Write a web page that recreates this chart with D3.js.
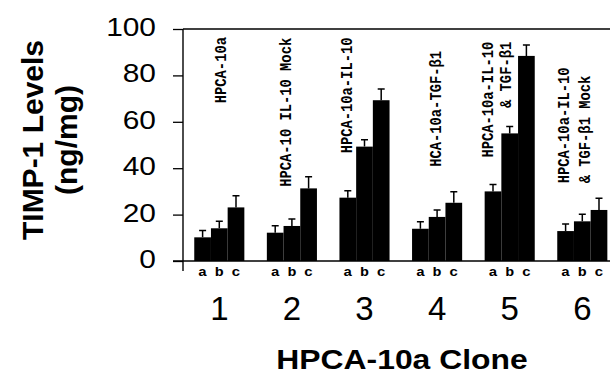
<!DOCTYPE html>
<html>
<head>
<meta charset="utf-8">
<script src="https://cdn.jsdelivr.net/npm/d3@7"></script>
<style>
  body { margin: 0; background: #fff; }
  svg { display: block; }
  .tick line { stroke: #000; stroke-width: 1.3; }
</style>
</head>
<body>
<div id="chart"></div>
<script>
// clone groups and the three samples in each
const groups = ["1", "2", "3", "4", "5", "6"];
const samples = ["a", "b", "c"];

// TIMP-1 levels (ng/mg)
const levelsA = [10.2, 12.2, 27.3, 13.9, 30.0, 12.9];
const levelsB = [14.1, 15.1, 49.3, 19.0, 55.0, 17.1];
const levelsC = [23.1, 31.3, 69.3, 25.1, 88.4, 22.0];
// error bar (upper) sizes
const errA = [3, 3, 3, 3, 3, 3];
const errB = [3, 3, 3, 3, 3, 3];
const errC = [5, 5, 4.8, 4.8, 4.7, 5];

const yTicks = [0, 20, 40, 60, 80, 100];

// annotation text for each clone
const cloneNames = [
    ["HPCA-10a"],
    ["HPCA-10 IL-10 Mock"],
    ["HPCA-10a-IL-10"],
    ["HCA-10a-TGF-β1"],
    ["HPCA-10a-IL-10", "& TGF-β1"],
    ["HPCA-10a-IL-10", "& TGF-β1 Mock"]
];

const levels = { a: levelsA, b: levelsB, c: levelsC };
const errs = { a: errA, b: errB, c: errC };
const data = groups.map((g, i) => ({
    group: g,
    bars: samples.map(s => ({ group: g, key: s, value: levels[s][i], err: errs[s][i] }))
}));

const width = 610, height = 379;

const svg = d3.select("#chart")
    .append("svg")
    .attr("width", width)
    .attr("height", height);

//scales
const y = d3.scaleLinear().domain([0, 100]).range([261, 29]);

const x0 = d3.scaleBand()
    .domain(groups)
    .range([183, 618.6])
    .paddingInner(0.31)
    .paddingOuter(0.155);

const x1 = d3.scaleBand()
    .domain(samples)
    .range([0, x0.bandwidth()])
    .padding(0);

//frame lines
svg.append("line")
    .attr("x1", 183).attr("x2", width)
    .attr("y1", y(100)).attr("y2", y(100))
    .attr("stroke", "#000").attr("stroke-width", 1.4);
svg.append("line")
    .attr("x1", 183).attr("x2", 183)
    .attr("y1", y(100)).attr("y2", y(0) + 10)
    .attr("stroke", "#000").attr("stroke-width", 1.4);
svg.append("line")
    .attr("x1", 173).attr("x2", width)
    .attr("y1", y(0)).attr("y2", y(0))
    .attr("stroke", "#000").attr("stroke-width", 1.4);

//y axis
const yAxis = svg.append("g")
    .attr("transform", "translate(183,0)")
    .call(d3.axisLeft(y).tickValues(yTicks).tickSize(10).tickPadding(13.5));
yAxis.select(".domain").remove();
yAxis.selectAll("text")
    .attr("font-family", "Liberation Sans, Arial, sans-serif")
    .attr("font-size", 26)
    .attr("fill", "#000")
    .attr("dy", "0.25em")
    .attr("transform", "scale(1.15,1)");

//x axis (clone numbers)
const xAxis = svg.append("g")
    .attr("transform", `translate(0,${y(0)})`)
    .call(d3.axisBottom(x0).tickSize(0).tickPadding(36));
xAxis.select(".domain").remove();
xAxis.selectAll("text")
    .attr("font-family", "Liberation Sans, Arial, sans-serif")
    .attr("font-size", 33)
    .attr("fill", "#000");

//bars
const groupG = svg.selectAll(".clone")
    .data(data)
    .join("g")
    .attr("class", "clone")
    .attr("transform", d => `translate(${x0(d.group)},0)`);

groupG.selectAll("rect")
    .data(d => d.bars)
    .join("rect")
    .attr("x", d => x1(d.key))
    .attr("y", d => y(d.value))
    .attr("width", x1.bandwidth())
    .attr("height", d => y(0) - y(d.value))
    .attr("fill", "#000");

//error bars
const cx = d => x1(d.key) + x1.bandwidth() / 2;
groupG.selectAll(".err")
    .data(d => d.bars)
    .join("path")
    .attr("class", "err")
    .attr("fill", "none")
    .attr("stroke", "#000")
    .attr("stroke-width", 1.5)
    .attr("d", d => `M${cx(d)},${y(d.value)}V${y(d.value + d.err)}M${cx(d) - 3.5},${y(d.value + d.err)}H${cx(d) + 3.5}`);

//a b c labels
groupG.selectAll(".sub")
    .data(d => d.bars)
    .join("text")
    .attr("class", "sub")
    .attr("transform", d => `translate(${cx(d)},276) scale(1.2,1)`)
    .attr("text-anchor", "middle")
    .attr("font-family", "Liberation Mono, Courier New, monospace")
    .attr("font-weight", "bold")
    .attr("font-size", 12.5)
    .text(d => d.key);

//clone name annotations (rotated)
const notePlace = [
    [{ dx: 26, v: 68, anchor: "start" }],
    [{ dx: 19, v: 32, anchor: "start" }],
    [{ dx: 7.6, v: 46.4, anchor: "start" }],
    [{ dx: 23.4, v: 40.6, anchor: "start" }],
    [{ dx: 3, v: 94.5, anchor: "end" }, { dx: 21, v: 94.5, anchor: "end" }],
    [{ dx: 6, v: 33.5, anchor: "start" }, { dx: 27, v: 33.5, anchor: "start" }]
];

groups.forEach((g, i) => {
    cloneNames[i].forEach((line, j) => {
        const p = notePlace[i][j];
        svg.append("text")
            .attr("transform", `translate(${x0(g) + p.dx},${y(p.v)}) scale(1.15,1) rotate(-90)`)
            .attr("dy", "0.33em")
            .attr("text-anchor", p.anchor)
            .attr("font-family", "Liberation Mono, Courier New, monospace")
            .attr("font-weight", "bold")
            .attr("font-size", 13.8)
            .attr("fill", "#000")
            .text(line);
    });
});

//axis titles
const yTitle = svg.append("text")
    .attr("transform", "translate(43,140) rotate(-90)")
    .attr("text-anchor", "middle")
    .attr("font-family", "Liberation Sans, Arial, sans-serif")
    .attr("font-weight", "bold")
    .attr("font-size", 30)
    .attr("fill", "#000");
yTitle.append("tspan").attr("x", 0).attr("y", 0).text("TIMP-1 Levels");
yTitle.append("tspan").attr("x", 0).attr("y", 34).text("(ng/mg)");

svg.append("text")
    .attr("transform", "translate(402,369) scale(1.18,1)")
    .attr("text-anchor", "middle")
    .attr("font-family", "Liberation Sans, Arial, sans-serif")
    .attr("font-weight", "bold")
    .attr("font-size", 27)
    .attr("fill", "#000")
    .text("HPCA-10a Clone");
</script>
</body>
</html>
